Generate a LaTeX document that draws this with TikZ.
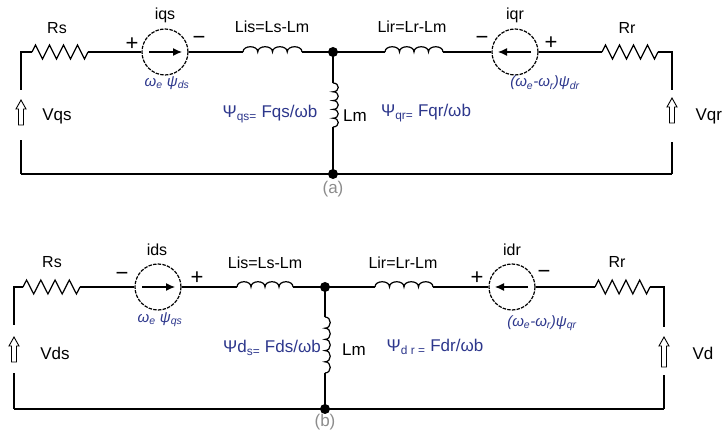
\documentclass[tikz,border=0pt]{standalone}
\usepackage{fontspec}
\setmainfont{Liberation Sans}
\usepackage{tikz}
\usetikzlibrary{calc,arrows,arrows.meta,positioning}

\definecolor{fluxblue}{RGB}{45,55,140}
\definecolor{taggray}{RGB}{140,140,140}

\newcommand{\resistor}[4]{%
  \coordinate (#1-w) at (#2,#4);
  \coordinate (#1-e) at (#3,#4);
  \draw (#1-w) \foreach \k in {0,...,3} {
      -- ({#2+(\k+0.25)*(#3-#2)/4},{#4-7}) -- ({#2+(\k+0.75)*(#3-#2)/4},{#4+7})} -- (#1-e);}
\newcommand{\coilh}[4]{%
  \coordinate (#1-w) at (#2,#4);
  \coordinate (#1-e) at (#3,#4);
  \draw (#1-w) \foreach \k in {1,...,4} {
      .. controls ({#2+(\k-1)*(#3-#2)/4},{#4-7}) and ({#2+\k*(#3-#2)/4},{#4-7}) .. ({#2+\k*(#3-#2)/4},#4)};}
\newcommand{\coilv}[4]{%
  \coordinate (#1-n) at (#2,#3);
  \coordinate (#1-s) at (#2,#4);
  \draw (#1-n) \foreach \k in {1,...,5} {
      .. controls ({#2+7},{#3+(\k-1)*(#4-#3)/5}) and ({#2+7},{#3+\k*(#4-#3)/5}) .. (#2,{#3+\k*(#4-#3)/5})};}
\newcommand{\vsrc}[4]{%
  \coordinate (#1-s) at (#2,#3);
  \coordinate (#1-n) at (#2,#4);
  \draw[line width=0.9pt] ({#2-2.5},#3) -- ({#2+2.5},#3) -- ({#2+2.5},{#4+9}) -- ({#2+5},{#4+9})
      -- (#1-n) -- ({#2-5},{#4+9}) -- ({#2-2.5},{#4+9}) -- cycle;}

\begin{document}
\begin{tikzpicture}[x=1pt,y=-1pt,line width=1.2pt,
    src/.style={circle,draw,dash pattern=on 3.5pt off 1.2pt,minimum size=46pt,inner sep=0pt},
    lbl/.style={font=\fontsize{16}{18}\selectfont},
    big/.style={font=\fontsize{17}{19}\selectfont},
    sign/.style={font=\fontsize{22}{24}\selectfont},
    flux/.style={big,text=fluxblue},
    omega/.style={font=\fontsize{15}{17}\selectfont\itshape,text=fluxblue},
    tag/.style={font=\fontsize{17}{19}\selectfont,text=taggray},
    dot/.style={circle,fill,inner sep=0pt,minimum size=10pt},
    cur/.style={-{Latex[length=9pt,width=8pt]}}]
  \useasboundingbox (0,0) rectangle (726,435);

  % (a) q-axis
  \coordinate (a-tl) at (21,52);
  \coordinate (a-bl) at (21,174);
  \coordinate (a-tr) at (672,52);
  \coordinate (a-br) at (672,174);
  \resistor{a-rs}{32}{88}{52}
  \node[src] (iqs) at (165,52) {};
  \coilh{a-lis}{243}{302}{52}
  \node[dot] (a-n1) at (333,52) {};
  \node[dot] (a-n2) at (333,174) {};
  \coilv{a-lm}{333}{83}{127}
  \coilh{a-lir}{385}{443}{52}
  \node[src] (iqr) at (515,52) {};
  \resistor{a-rr}{602}{658}{52}
  \vsrc{a-vs}{21}{125}{100}
  \vsrc{a-vr}{672}{123}{98}
  \draw (a-rs-w) -- (a-tl) -- ++(0,38);
  \draw (a-bl) -- ++(0,-34);
  \draw (a-rs-e) -- (iqs.west);
  \draw (iqs.east) -- (a-lis-w);
  \draw (a-lis-e) -- (a-n1.center) -- (a-lir-w);
  \draw (a-n1.center) -- (a-lm-n);
  \draw (a-lm-s) -- (a-n2.center);
  \draw (a-lir-e) -- (iqr.west);
  \draw (iqr.east) -- (a-rr-w);
  \draw (a-rr-e) -- (a-tr) -- ++(0,38);
  \draw (a-br) -- ++(0,-32);
  \draw (a-bl) -- (a-br);
  \draw[cur] ([xshift=-16pt]iqs.center) -- ([xshift=17pt]iqs.center);
  \draw[cur] ([xshift=16pt]iqr.center) -- ([xshift=-17pt]iqr.center);

  \node[lbl] at (57,28) {Rs};
  \node[lbl] at (165,15) {iqs};
  \node[sign] at (132,44) {+};
  \node[sign] at (199,40) {−};
  \node[omega] at (167,83) {ω\textsubscript{e} ψ\textsubscript{ds}};
  \node[lbl] at (272,27) {Lis=Ls-Lm};
  \node[flux] at (270,114) {Ψ\textsubscript{qs=} Fqs/ωb};
  \node[big] at (355,116) {Lm};
  \node[tag] at (333,189) {(a)};
  \node[big] at (57,116) {Vqs};
  \node[lbl] at (412,27) {Lir=Lr-Lm};
  \node[lbl] at (515,15) {iqr};
  \node[sign] at (482,40) {−};
  \node[sign] at (551,43) {+};
  \node[omega] at (545,83) {(ω\textsubscript{e}-ω\textsubscript{r})ψ\textsubscript{dr}};
  \node[lbl] at (627,28) {Rr};
  \node[big,anchor=east] at (726,116) {Vqr};
  \node[flux] at (426,113) {Ψ\textsubscript{qr=} Fqr/ωb};

  % (b) d-axis
  \coordinate (b-tl) at (14,287);
  \coordinate (b-bl) at (14,409);
  \coordinate (b-tr) at (664,287);
  \coordinate (b-br) at (664,409);
  \resistor{b-rs}{23}{80}{287}
  \node[src] (ids) at (158,287) {};
  \coilh{b-lis}{237}{293}{287}
  \node[dot] (b-n1) at (325,287) {};
  \node[dot] (b-n2) at (325,409) {};
  \coilv{b-lm}{325}{317}{373}
  \coilh{b-lir}{375}{433}{287}
  \node[src] (idr) at (512,287) {};
  \resistor{b-rr}{595}{650}{287}
  \vsrc{b-vs}{14}{362}{337}
  \vsrc{b-vr}{664}{367}{337}
  \draw (b-rs-w) -- (b-tl) -- ++(0,38);
  \draw (b-bl) -- ++(0,-36);
  \draw (b-rs-e) -- (ids.west);
  \draw (ids.east) -- (b-lis-w);
  \draw (b-lis-e) -- (b-n1.center) -- (b-lir-w);
  \draw (b-n1.center) -- (b-lm-n);
  \draw (b-lm-s) -- (b-n2.center);
  \draw (b-lir-e) -- (idr.west);
  \draw (idr.east) -- (b-rr-w);
  \draw (b-rr-e) -- (b-tr) -- ++(0,40);
  \draw (b-br) -- ++(0,-34);
  \draw (b-bl) -- (b-br);
  \draw[cur] ([xshift=-16pt]ids.center) -- ([xshift=17pt]ids.center);
  \draw[cur] ([xshift=16pt]idr.center) -- ([xshift=-17pt]idr.center);

  \node[lbl] at (52,262) {Rs};
  \node[lbl] at (157,250) {ids};
  \node[sign] at (122,276) {−};
  \node[sign] at (197,278) {+};
  \node[omega] at (160,320) {ω\textsubscript{e} ψ\textsubscript{qs}};
  \node[lbl] at (265,263) {Lis=Ls-Lm};
  \node[flux] at (272,348) {Ψd\textsubscript{s=} Fds/ωb};
  \node[big] at (354,350) {Lm};
  \node[tag] at (325,422) {(b)};
  \node[big] at (55,353) {Vds};
  \node[lbl] at (403,263) {Lir=Lr-Lm};
  \node[lbl] at (512,250) {idr};
  \node[sign] at (477,278) {+};
  \node[sign] at (544,274) {−};
  \node[omega] at (542,323) {(ω\textsubscript{e}-ω\textsubscript{r})ψ\textsubscript{qr}};
  \node[lbl] at (617,262) {Rr};
  \node[big] at (703,353) {Vd};
  \node[flux] at (435,347) {Ψ\textsubscript{d r =} Fdr/ωb};
\end{tikzpicture}
\end{document}
